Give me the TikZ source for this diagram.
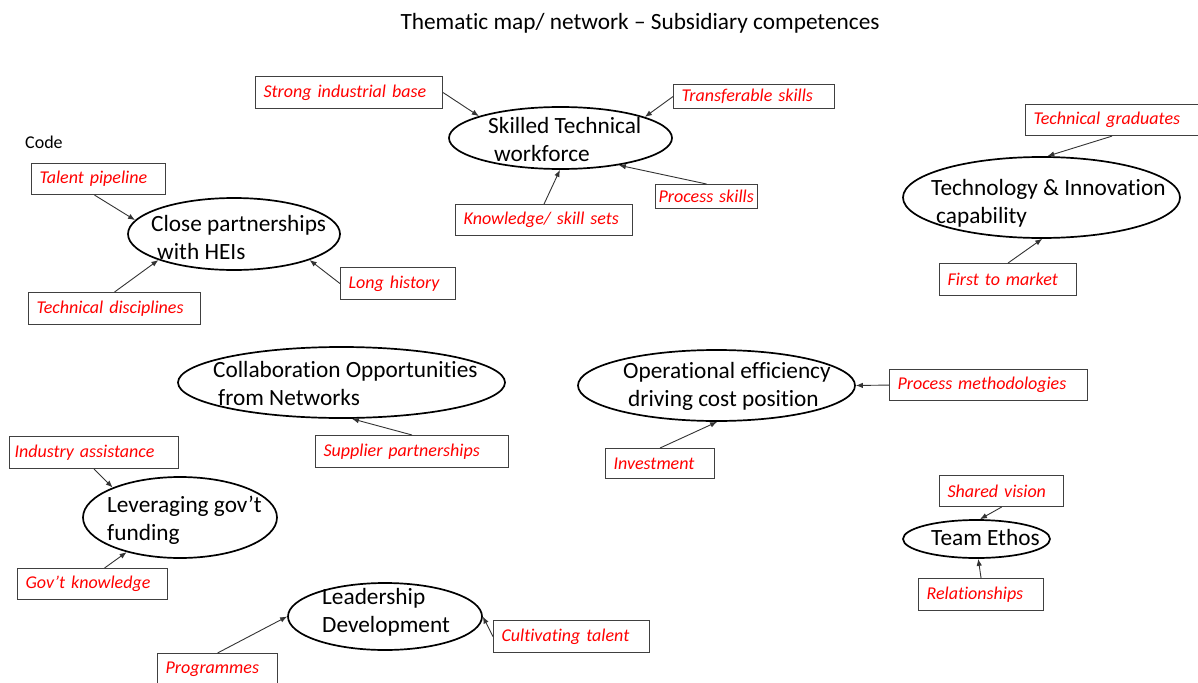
\documentclass[tikz,border=0pt]{standalone}
\usepackage{fontspec}
\setmainfont{Carlito}[Ligatures=NoCommon]
\usetikzlibrary{shapes.geometric,arrows.meta}

\begin{document}
\begin{tikzpicture}[x=1pt,y=-1pt,
  theme/.style={ellipse,draw=black,line width=1.7pt,inner sep=0pt},
  % anchored at the baseline of the last line
  themetext/.style={anchor=base west,inner sep=0pt,align=left,
    font=\fontsize{23.3}{28}\selectfont},
  codebox/.style={draw=black!75,line width=1.1pt,anchor=north west,
    inner xsep=8pt,inner ysep=0pt,text=red,align=left,text width=#1,
    font=\itshape\fontsize{18}{21}\selectfont},
  link/.style={draw=black!80,line width=0.9pt,-{Latex[length=7pt,width=5.5pt]}}
]
\path[use as bounding box,fill=white] (0,0) rectangle (1198,682);

% title and code label
\node[anchor=base,inner sep=0pt,font=\fontsize{23.3}{28}\selectfont] (title) at (640,30)
  {Thematic map/ network -- Subsidiary competences};
\node[anchor=base west,inner sep=0pt,font=\fontsize{18}{21}\selectfont] (code) at (25,148) {Code};

% themes
\node[theme,minimum width=223pt,minimum height=62pt] (e1) at (560.5,138) {};
\node[themetext] (t1) at (488,161) {Skilled Technical\\\hspace*{6pt}workforce};

\node[theme,minimum width=212pt,minimum height=72pt] (e2) at (234,234) {};
\node[themetext] (t2) at (151,259) {Close partnerships\\\hspace*{6pt}with HEIs};

\node[theme,minimum width=277pt,minimum height=81pt] (e3) at (1041.5,197.5) {};
\node[themetext] (t3) at (931,223) {Technology \& Innovation\\\hspace*{5pt}capability};

\node[theme,minimum width=327pt,minimum height=71pt] (e4) at (341.5,382.5) {};
\node[themetext] (t4) at (213,405) {Collaboration Opportunities\\\hspace*{5pt}from Networks};

\node[theme,minimum width=277pt,minimum height=71pt] (e5) at (716.5,385.5) {};
\node[themetext] (t5) at (623,406) {Operational efficiency\\\hspace*{5pt}driving cost position};

\node[theme,minimum width=194pt,minimum height=81pt] (e6) at (180,517.5) {};
\node[themetext] (t6) at (107,540) {Leveraging gov’t\\funding};

\node[theme,minimum width=194pt,minimum height=67pt] (e7) at (385,616.5) {};
\node[themetext] (t7) at (322,632) {Leadership\\Development};

\node[theme,minimum width=147pt,minimum height=38pt] (e8) at (976.5,539) {};
\node[themetext] (t8) at (931,545) {Team Ethos};

% codes
\node[codebox=171pt,minimum height=32pt] (sib) at (255,76)  {\mbox{Strong industrial base}};
\node[codebox=145pt,minimum height=24pt] (tfs) at (673,84)  {\mbox{Transferable skills}};
\node[codebox=96pt, minimum height=24pt,inner xsep=3pt] (prs) at (655,184) {\mbox{Process skills}};
\node[codebox=161pt,minimum height=31pt] (kss) at (455,204) {\mbox{Knowledge/ skill sets}};
\node[codebox=118pt,minimum height=31pt] (tpl) at (31,163)  {\mbox{Talent pipeline}};
\node[codebox=156pt,minimum height=32pt] (tdi) at (28,292)  {\mbox{Technical disciplines}};
\node[codebox=99pt, minimum height=32pt] (lhi) at (340,267) {\mbox{Long history}};
\node[codebox=157pt,minimum height=31pt] (tgr) at (1025,104) {\mbox{Technical graduates}};
\node[codebox=121pt,minimum height=32pt] (ftm) at (939,263) {\mbox{First to market}};
\node[codebox=159pt,minimum height=32pt,inner xsep=5pt] (ias) at (9,436) {\mbox{Industry assistance}};
\node[codebox=134pt,minimum height=31pt] (gkn) at (17,568) {\mbox{Gov’t knowledge}};
\node[codebox=177pt,minimum height=32pt] (spp) at (315,435) {\mbox{Supplier partnerships}};
\node[codebox=182pt,minimum height=31pt] (pme) at (889,369) {\mbox{Process methodologies}};
\node[codebox=93pt, minimum height=30pt] (inv) at (605,448) {\mbox{Investment}};
\node[codebox=108pt,minimum height=31pt] (shv) at (939,475) {\mbox{Shared vision}};
\node[codebox=109pt,minimum height=32pt] (rel) at (918,578) {\mbox{Relationships}};
\node[codebox=140pt,minimum height=32pt] (ctl) at (493,620) {\mbox{Cultivating talent}};
\node[codebox=104pt,minimum height=32pt] (prg) at (157,653) {\mbox{Programmes}};

% links from codes to themes
\draw[link] (sib.east) -- (e1.165);
\draw[link] (tfs.west) -- (e1.14);
\draw[link] (prs.north) -- (e1.-25);
\draw[link] (kss.north) -- (e1.-91);
\draw[link] ([xshift=-4pt]tpl.south) -- (e2.172);
\draw[link] (tdi.north) -- (e2.199);
\draw[link] (lhi.west) -- (e2.-19);
\draw[link] (tgr.south) -- (e3.82);
\draw[link] (ftm.north) -- (e3.-89);
\draw[link] (spp.north) -- (e4.-74);
\draw[link] (pme.west) -- (e5.0);
\draw[link] (inv.north) -- (e5.-89);
\draw[link] (ias.south) -- (e6.156);
\draw[link] ([xshift=12pt]gkn.north) -- (e6.213);
\draw[link] (prg.north) -- (e7.180);
\draw[link] (ctl.west) -- (e7.0);
\draw[link] (shv.south) -- (e8.80);
\draw[link] (rel.north) -- (e8.-85);
\end{tikzpicture}
\end{document}
